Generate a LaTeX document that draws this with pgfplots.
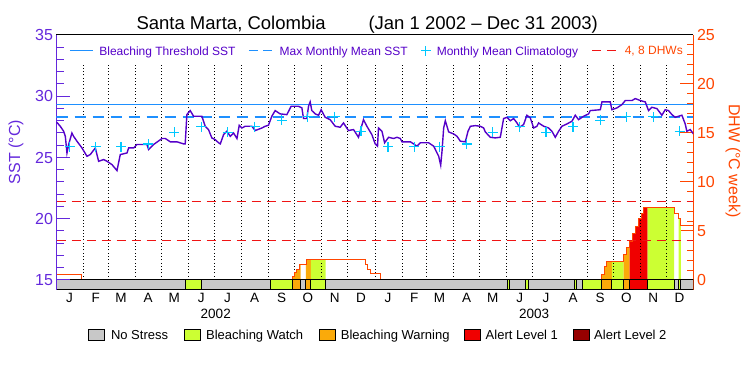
\documentclass[border=0pt]{standalone}
\usepackage{fontspec}
\setmainfont{Liberation Sans}
\usepackage{pgfplots}
\pgfplotsset{compat=1.18}
\definecolor{sstline}{RGB}{85,0,200}
\definecolor{sstaxis}{RGB}{100,40,220}
\definecolor{thresh}{RGB}{30,144,255}
\definecolor{clim}{RGB}{0,200,255}
\definecolor{dhwc}{RGB}{255,69,0}
\definecolor{dhwdash}{RGB}{240,20,20}
\definecolor{nostress}{RGB}{200,200,200}
\definecolor{watch}{RGB}{204,255,51}
\definecolor{warning}{RGB}{250,170,10}
\definecolor{alertone}{RGB}{240,0,0}
\definecolor{alerttwo}{RGB}{150,0,0}
\begin{document}
\begin{tikzpicture}
\useasboundingbox (0,0) rectangle (750pt,375pt);
\node[anchor=base west, font=\fontsize{18.5}{20}\selectfont] at (133pt,345pt) {Santa Marta, Colombia};
\node[anchor=base west, font=\fontsize{18.5}{20}\selectfont] at (365pt,345pt) {(Jan 1 2002 -- Dec 31 2003)};
% ---------------- DHW axis ----------------
\begin{axis}[
  at={(56.5pt,85pt)}, anchor=south west, scale only axis,
  width=637pt, height=255pt,
  xmin=0, xmax=730, ymin=-1.0204, ymax=25,
  axis y line*=right, axis x line=none,
  ytick={0,5,10,15,20,25}, minor y tick num=4,
  tick align=inside, major tick length=13pt, minor tick length=6pt,
  y axis line style={dhwc, line width=1pt},
  y tick style={dhwc, line width=1pt},
  yticklabel style={dhwc, font=\fontsize{16}{18}\selectfont},
  /pgf/number format/assume math mode=true,
  ylabel={DHW (°C week)},
  ylabel style={dhwc, font=\fontsize{16}{18}\selectfont, at={(axis description cs:1.062,0.506)}, anchor=center, rotate=180},
  legend columns=5, legend cell align=left,
  legend style={at={(axis description cs:0.0484,-0.1753)}, anchor=west, draw=none, fill=none, inner sep=0pt, column sep=0pt,
     nodes={inner sep=0pt, text depth=0pt, font=\fontsize{13}{15}\selectfont}},
]
% fills under DHW
\addplot[forget plot, const plot, fill=warning, draw=none] coordinates {(270.5,0.4) (273.2,0.75) (275.2,1.1) (278.2,1.6) (279.7,1.6)} \closedcycle;
\addplot[forget plot, const plot, fill=warning, draw=none] coordinates {(285.9,1.6) (286,2.1) (291.6,2.1)} \closedcycle;
\addplot[forget plot, const plot, fill=watch, draw=none] coordinates {(291.6,2.1) (308.3,2.1)} \closedcycle;
\addplot[forget plot, const plot, fill=warning, draw=none] coordinates {(625.1,0.61) (627.7,1.38) (630.8,1.9) (636.5,1.9)} \closedcycle;
\addplot[forget plot, const plot, fill=watch, draw=none] coordinates {(636.5,1.9) (649.8,1.9)} \closedcycle;
\addplot[forget plot, const plot, fill=warning, draw=none] coordinates {(649.8,2.64) (652.9,3.32) (656.7,3.32)} \closedcycle;
\addplot[forget plot, const plot, fill=alertone, draw=none] coordinates {(656.7,3.93) (660.1,4.78) (663.2,5.45) (667,6.24) (670.1,6.81) (672.8,7.39) (677.3,7.39)} \closedcycle;
\addplot[forget plot, const plot, fill=watch, draw=none] coordinates {(677.3,7.39) (707.9,7.39)} \closedcycle;
\addplot[forget plot, const plot, fill=watch, draw=none] coordinates {(712.9,6.31) (714.8,5.52) (715.6,5.52)} \closedcycle;
% month boundaries
\pgfplotsinvokeforeach{31,59,90,120,151,181,212,243,273,304,334,365,396,424,455,485,516,546,577,608,638,669,699}{
  \addplot[forget plot, black, line width=0.9pt, dash pattern=on 0.9pt off 2.4pt] coordinates {(#1,0) (#1,22.2)};
}
% 4 and 8 DHW lines
\addplot[forget plot, dhwdash, line width=1.1pt, dash pattern=on 9pt off 6pt] coordinates {(0,4) (730,4)};
\addplot[forget plot, dhwdash, line width=1.1pt, dash pattern=on 9pt off 6pt] coordinates {(0,8) (730,8)};
% DHW line
\addplot[forget plot, const plot, dhwc, line width=1pt] coordinates {
(0,0.54) (29.2,0) (270.5,0.4) (273.2,0.75) (275.2,1.1) (278.2,1.6) (286,2.1) (353.8,1.6) (356.4,1.1) (359.5,0.65) (371,0)
(625.1,0.61) (627.7,1.38) (630.8,1.9) (649.8,2.64) (652.9,3.32) (656.7,3.93) (660.1,4.78) (663.2,5.45) (667,6.24) (670.1,6.81) (672.8,7.39)
(707.9,6.81) (712.9,6.31) (714.8,5.52) (730,5.52)};
% stress bar
\addplot[forget plot, fill=nostress, draw=black, line width=1pt] coordinates {(0,-1.0204) (148,-1.0204)} \closedcycle;
\addplot[forget plot, fill=watch, draw=black, line width=1pt] coordinates {(148,-1.0204) (166.2,-1.0204)} \closedcycle;
\addplot[forget plot, fill=nostress, draw=black, line width=1pt] coordinates {(166.2,-1.0204) (245.3,-1.0204)} \closedcycle;
\addplot[forget plot, fill=watch, draw=black, line width=1pt] coordinates {(245.3,-1.0204) (270.5,-1.0204)} \closedcycle;
\addplot[forget plot, fill=warning, draw=black, line width=1pt] coordinates {(270.5,-1.0204) (279.7,-1.0204)} \closedcycle;
\addplot[forget plot, fill=nostress, draw=black, line width=1pt] coordinates {(279.7,-1.0204) (285.9,-1.0204)} \closedcycle;
\addplot[forget plot, fill=warning, draw=black, line width=1pt] coordinates {(285.9,-1.0204) (291.6,-1.0204)} \closedcycle;
\addplot[forget plot, fill=watch, draw=black, line width=1pt] coordinates {(291.6,-1.0204) (308.3,-1.0204)} \closedcycle;
\addplot[forget plot, fill=nostress, draw=black, line width=1pt] coordinates {(308.3,-1.0204) (516.9,-1.0204)} \closedcycle;
\addplot[forget plot, fill=watch, draw=black, line width=1pt] coordinates {(516.9,-1.0204) (519.2,-1.0204)} \closedcycle;
\addplot[forget plot, fill=nostress, draw=black, line width=1pt] coordinates {(519.2,-1.0204) (537.2,-1.0204)} \closedcycle;
\addplot[forget plot, fill=watch, draw=black, line width=1pt] coordinates {(537.2,-1.0204) (541,-1.0204)} \closedcycle;
\addplot[forget plot, fill=nostress, draw=black, line width=1pt] coordinates {(541,-1.0204) (593.3,-1.0204)} \closedcycle;
\addplot[forget plot, fill=watch, draw=black, line width=1pt] coordinates {(593.3,-1.0204) (595.6,-1.0204)} \closedcycle;
\addplot[forget plot, fill=nostress, draw=black, line width=1pt] coordinates {(595.6,-1.0204) (602.8,-1.0204)} \closedcycle;
\addplot[forget plot, fill=watch, draw=black, line width=1pt] coordinates {(602.8,-1.0204) (625.1,-1.0204)} \closedcycle;
\addplot[forget plot, fill=warning, draw=black, line width=1pt] coordinates {(625.1,-1.0204) (636.5,-1.0204)} \closedcycle;
\addplot[forget plot, fill=watch, draw=black, line width=1pt] coordinates {(636.5,-1.0204) (649.8,-1.0204)} \closedcycle;
\addplot[forget plot, fill=warning, draw=black, line width=1pt] coordinates {(649.8,-1.0204) (656.7,-1.0204)} \closedcycle;
\addplot[forget plot, fill=alertone, draw=black, line width=1pt] coordinates {(656.7,-1.0204) (677.3,-1.0204)} \closedcycle;
\addplot[forget plot, fill=watch, draw=black, line width=1pt] coordinates {(677.3,-1.0204) (707.9,-1.0204)} \closedcycle;
\addplot[forget plot, fill=nostress, draw=black, line width=1pt] coordinates {(707.9,-1.0204) (712.9,-1.0204)} \closedcycle;
\addplot[forget plot, fill=watch, draw=black, line width=1pt] coordinates {(712.9,-1.0204) (715.6,-1.0204)} \closedcycle;
\addplot[forget plot, fill=nostress, draw=black, line width=1pt] coordinates {(715.6,-1.0204) (730,-1.0204)} \closedcycle;
% bottom legend
\addlegendimage{legend image code/.code={\draw[fill=nostress, draw=black, line width=0.8pt] (0pt,-5.3pt) rectangle (16pt,5.3pt);}}
\addlegendentry{\makebox[80pt][l]{\hspace{6.7pt}No Stress}}
\addlegendimage{legend image code/.code={\draw[fill=watch, draw=black, line width=0.8pt] (0pt,-5.3pt) rectangle (16pt,5.3pt);}}
\addlegendentry{\makebox[118pt][l]{\hspace{5pt}Bleaching Watch}}
\addlegendimage{legend image code/.code={\draw[fill=warning, draw=black, line width=0.8pt] (0pt,-5.3pt) rectangle (16pt,5.3pt);}}
\addlegendentry{\makebox[127.7pt][l]{\hspace{5pt}Bleaching Warning}}
\addlegendimage{legend image code/.code={\draw[fill=alertone, draw=black, line width=0.8pt] (0pt,-5.3pt) rectangle (16pt,5.3pt);}}
\addlegendentry{\makebox[92.3pt][l]{\hspace{5.3pt}Alert Level 1}}
\addlegendimage{legend image code/.code={\draw[fill=alerttwo, draw=black, line width=0.8pt] (0pt,-5.3pt) rectangle (16pt,5.3pt);}}
\addlegendentry{\hspace{4.7pt}Alert Level 2}
\end{axis}
% ---------------- SST axis ----------------
\begin{axis}[
  at={(56.5pt,85pt)}, anchor=south west, scale only axis,
  width=637pt, height=255pt,
  xmin=0, xmax=730, ymin=14.1837, ymax=35,
  separate axis lines,
  axis y line*=left,
  x axis line style={black, line width=1pt},
  y axis line style={sstaxis, line width=1.2pt},
  ytick={15,20,25,30,35}, minor y tick num=4,
  tick align=inside, major tick length=13pt, minor tick length=7pt,
  y tick style={sstaxis, line width=1pt},
  yticklabel style={sstaxis, font=\fontsize{16}{18}\selectfont},
  xtick={15,45,74,105,135,166,196,227,258,288,319,349,380,410,439,470,500,531,561,592,623,653,684,714},
  xticklabels={J,F,M,A,M,J,J,A,S,O,N,D,J,F,M,A,M,J,J,A,S,O,N,D},
  x tick style={draw=none},
  xticklabel style={font=\fontsize{13.5}{15}\selectfont},
  extra x ticks={182.5,547.5}, extra x tick labels={2002,2003},
  extra x tick style={xticklabel style={yshift=-16pt}, major tick length=0pt},
  /pgf/number format/assume math mode=true,
  ylabel={SST (°C)},
  ylabel style={sstaxis, font=\fontsize{16}{18}\selectfont, at={(axis description cs:-0.0636,0.541)}, anchor=center},
  legend columns=4, legend cell align=left,
  legend style={at={(axis description cs:0.0196,0.9384)}, anchor=west, draw=none, fill=none, inner sep=0pt, column sep=0pt,
     nodes={inner sep=0pt, text depth=0pt, font=\fontsize{12}{14}\selectfont}},
]
\addplot[forget plot, thresh, line width=1.2pt] coordinates {(0,29.3) (730,29.3)};
\addplot[forget plot, thresh, line width=1.2pt, dash pattern=on 11pt off 7pt] coordinates {(0,28.3) (730,28.3)};
\addplot[forget plot, only marks, mark=+, mark size=5pt, clim, mark options={line width=1.2pt}] coordinates {
(15,25.87) (45,25.87) (74,25.87) (105,26.1) (135,27.05) (166,27.5) (196,27.05) (227,27.5) (258,28.05) (288,28.32) (319,28.32) (349,27.15)
(380,25.87) (410,25.87) (439,25.87) (470,26.1) (500,27.05) (531,27.5) (561,27.05) (592,27.5) (623,28.05) (653,28.32) (684,28.32) (714,27.15)};
\addplot[forget plot, sstline, line width=1.4pt] coordinates {
(0,27.9) (4.3,27.55) (8.2,27.14) (10.1,26.73) (12.0,25.37) (13.9,26.06) (17.7,27.0) (19.6,26.73) (23.4,26.33) (29.2,25.78)
(34.9,25.1) (38.7,25.24) (44.5,25.78) (48.3,24.69) (54,24.83) (57.9,24.69) (63.6,24.42) (69.3,23.93) (73.1,25.24) (80.8,25.37)
(82.7,25.78) (88.4,25.78) (92.2,26.06) (103.7,26.06) (105.6,25.65) (111.3,26.06) (120.9,26.55) (124.7,26.55) (130.4,26.28) (138,26.28)
(145.7,26.11) (147.5,26.11) (149.4,28.5) (153.2,28.83) (157.1,28.37) (166.6,28.37) (170.4,27.55) (174.2,27.28) (178,26.6) (181.8,26.46)
(185.8,26.2) (187.7,26.11) (191.5,26.87) (195.3,27.14) (199.1,26.73) (202.9,27.0) (206.8,26.55) (209.4,27.63) (212.5,27.41) (216.3,27.55)
(223.9,27.55) (227.7,27.2) (235.4,27.41) (239.2,27.55) (242.9,27.63) (246.8,28.37) (250.6,28.83) (256.3,28.56) (264,28.5) (268.9,29.18)
(277.4,29.18) (281.2,29.05) (283.1,28.18) (286.9,28.18) (288.8,29.18) (290.7,29.54) (292.6,28.83) (296.5,28.56) (300.3,28.45) (303.3,28.9)
(307.9,28.28) (313.6,28.09) (319.4,27.55) (325.1,27.47) (328.9,27.82) (334.6,27.2) (340.4,27.28) (346.1,26.65) (351.8,28.09) (355.7,27.55)
(361.4,26.87) (365.2,26.11) (367.9,25.92) (369,27.41) (373,27.14) (376,26.2) (380.6,26.65) (386.3,26.55) (390.2,26.65) (394,26.55)
(395.9,26.28) (405.5,26.28) (409.3,26.11) (413.1,25.92) (417,26.2) (426.5,26.2) (432.3,25.92) (438,25.1) (440.3,24.37) (441.8,25.51)
(443.7,27.41) (445.6,28.0) (447.5,27.55) (449.4,27.09) (455.2,26.92) (459,26.73) (462.8,26.33) (468.5,26.28) (471.6,27.14) (474.3,27.55)
(480,27.6) (485.7,27.55) (489.5,27.41) (491.4,27.09) (497.1,26.65) (502.8,26.6) (508.6,26.65) (512.4,28.18) (516.2,28.28) (520,28.0)
(523.9,28.18) (527.7,27.82) (530.7,27.47) (535.3,27.69) (539.1,28.45) (543,28.23) (546.8,27.41) (550.6,27.55) (552.5,27.82) (558.3,27.55)
(564,27.41) (567.8,27.14) (571.6,26.65) (575.4,27.14) (579.2,27.55) (585,27.74) (590.7,27.96) (594.5,28.45) (598.3,28.09) (604.1,28.37)
(609.8,28.56) (611.7,28.83) (623.2,28.9) (625.1,29.54) (634.6,29.54) (636.5,28.9) (642.3,29.05) (648,29.32) (651.8,29.65) (659.5,29.65)
(663.3,29.81) (669,29.65) (674.7,29.54) (678.5,28.83) (682.4,29.1) (688.1,28.99) (693.8,28.45) (697.6,28.9) (701.4,28.83) (705.3,28.5)
(709.1,28.28) (712.9,28.37) (716.7,28.45) (720.5,27.74) (722.4,27.14) (726.2,27.28) (730,26.92)};
% top legend
\addlegendimage{legend image code/.code={\draw[thresh, line width=1.2pt] (0pt,0pt) -- (23.7pt,0pt);}}
\addlegendentry{\makebox[154.3pt][l]{\hspace{5.3pt}\textcolor{sstline}{Bleaching Threshold SST}}}
\addlegendimage{legend image code/.code={\draw[thresh, line width=1.2pt] (0pt,0pt) -- (9pt,0pt) (14.5pt,0pt) -- (23.5pt,0pt);}}
\addlegendentry{\makebox[147.2pt][l]{\hspace{6.5pt}\textcolor{sstline}{Max Monthly Mean SST}}}
\addlegendimage{legend image code/.code={\draw[clim, line width=1.2pt] (0pt,-5pt) -- (0pt,5pt) (-5pt,0pt) -- (5pt,0pt);}}
\addlegendentry{\makebox[160.3pt][l]{\hspace{5.3pt}\textcolor{sstline}{Monthly Mean Climatology}}}
\addlegendimage{legend image code/.code={\draw[dhwdash, line width=1.2pt] (0pt,0pt) -- (9pt,0pt) (14.5pt,0pt) -- (23.5pt,0pt);}}
\addlegendentry{\hspace{8.3pt}\textcolor{dhwc}{4, 8 DHWs}}
\end{axis}
\end{tikzpicture}
\end{document}
